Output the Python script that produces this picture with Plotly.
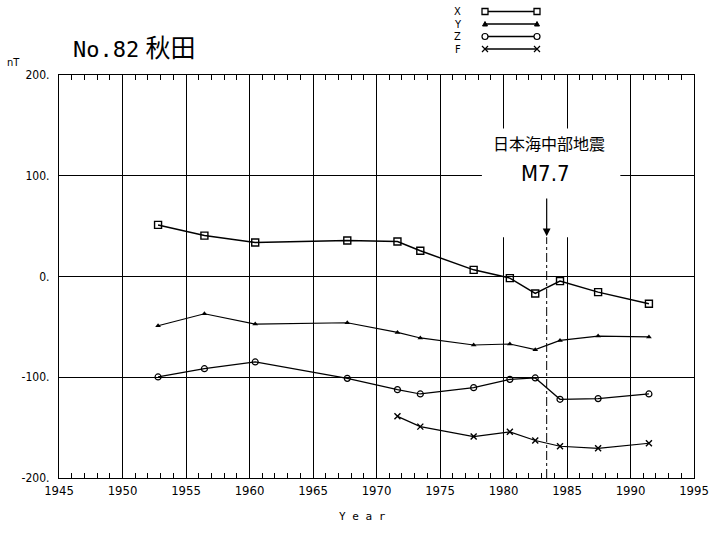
import plotly.graph_objects as go

# ---- data ----
years = [1952.8, 1956.45, 1960.45, 1967.7, 1971.65, 1973.45, 1977.65, 1980.5, 1982.5, 1984.45, 1987.45, 1991.45]
x_vals = [51.2, 40.6, 33.7, 35.7, 34.7, 25.5, 6.6, -1.6, -16.8, -4.6, -15.5, -27.1]
y_vals = [-48.9, -37.0, -47.2, -45.9, -55.5, -61.0, -68.0, -67.0, -72.6, -63.4, -59.1, -60.0]
z_vals = [-99.7, -91.5, -84.8, -101.1, -112.3, -116.6, -110.3, -102.1, -100.7, -121.9, -121.2, -116.6]
f_years = [1971.65, 1973.45, 1977.65, 1980.5, 1982.5, 1984.45, 1987.45, 1991.45]
f_vals = [-138.8, -149.0, -158.9, -154.2, -162.8, -168.5, -170.5, -165.5]

x_ticks = [1945, 1950, 1955, 1960, 1965, 1970, 1975, 1980, 1985, 1990, 1995]
y_ticks = [-200, -100, 0, 100, 200]
y_ticktext = ["-200.", "-100.", "0.", "100.", "200."]

quake_year = 1983.4
quake_name = "日本海中部地震"
quake_mag = "M7.7"
station_title = "No.82"
station_name = "秋田"

TICKFONT = "DejaVu Sans Condensed, DejaVu Sans, sans-serif"
CJK = "Noto Sans CJK JP"

fig = go.Figure()

series = [
    ("X", years, x_vals, dict(symbol="square-open", size=7, line=dict(width=1.4)), 1.5),
    ("Y", years, y_vals, dict(symbol="triangle-up", size=5), 1.2),
    ("Z", years, z_vals, dict(symbol="circle-open", size=6, line=dict(width=1.2)), 1.2),
    ("F", f_years, f_vals, dict(symbol="x-thin-open", size=6, line=dict(width=1.4)), 1.2),
]
for name, xs, ys, mk, lw in series:
    mk = dict(mk)
    mk["color"] = "black"
    fig.add_trace(go.Scatter(x=xs, y=ys, mode="lines+markers", name=name,
                             line=dict(color="black", width=lw), marker=mk,
                             showlegend=False, cliponaxis=False))

# ---- plot geometry (pixels) for paper conversions ----
W, H = 710, 533
L, R, T, B = 59, 16, 75, 55
PW, PH = W - L - R, H - T - B


def px(xp):
    return (xp - L) / PW


def py(yp):
    return (H - B - yp) / PH


shapes = []
# white box behind the annotation text (interrupts grid lines)
shapes.append(dict(type="rect", xref="x", yref="y", x0=1978.3, x1=1989.2, y0=39, y1=147,
                   fillcolor="white", line=dict(width=0), layer="between"))
# dashed earthquake line
shapes.append(dict(type="line", xref="x", yref="y", x0=quake_year, x1=quake_year, y0=-200, y1=39,
                   line=dict(color="black", width=1, dash="dashdot"), layer="between"))

# ---- manual legend in the top margin ----
leg_rows = [("X", 11.5), ("Y", 24), ("Z", 36.5), ("F", 49)]
lx0, lx1, ltx = 485, 537, 458
annotations = []
for name, yy in leg_rows:
    yv = py(yy)
    shapes.append(dict(type="line", xref="paper", yref="paper", x0=px(lx0), x1=px(lx1), y0=yv, y1=yv,
                       line=dict(color="black", width=1.3)))
    for xx in (lx0, lx1):
        xa = px(xx)
        common = dict(xref="paper", yref="paper", xsizemode="pixel", ysizemode="pixel",
                      xanchor=xa, yanchor=yv)
        if name == "X":
            shapes.append(dict(type="rect", x0=-3, x1=3, y0=-3, y1=3, fillcolor="white",
                               line=dict(color="black", width=1.3), **common))
        elif name == "Y":
            shapes.append(dict(type="path", path="M-2.5,-2 L2.5,-2 L0,2.5 Z", fillcolor="black",
                               line=dict(color="black", width=1), **common))
        elif name == "Z":
            shapes.append(dict(type="circle", x0=-3, x1=3, y0=-3, y1=3, fillcolor="white",
                               line=dict(color="black", width=1.2), **common))
        else:
            shapes.append(dict(type="path", path="M-3,-3 L3,3 M-3,3 L3,-3",
                               line=dict(color="black", width=1.2), **common))
    annotations.append(dict(text=name, xref="paper", yref="paper", x=px(ltx), y=yv,
                            xanchor="center", yanchor="middle", showarrow=False,
                            font=dict(family=TICKFONT, size=11, color="black")))

# title
annotations.append(dict(
    text=f"<span style='font-family:DejaVu Sans Mono;font-size:22px'>{station_title}</span>"
         f"  <span style='font-family:{CJK};font-size:25px'>{station_name}</span>",
    xref="paper", yref="paper", x=px(71), y=py(46), xanchor="left", yanchor="middle",
    showarrow=False, font=dict(color="black")))
# unit label
annotations.append(dict(text="nT", xref="paper", yref="paper", x=px(5), y=py(63),
                        xanchor="left", yanchor="middle", showarrow=False,
                        font=dict(family=TICKFONT, size=11, color="black")))
# x-axis title
annotations.append(dict(text="Y e a r", xref="paper", yref="paper", x=px(362), y=py(516),
                        xanchor="center", yanchor="middle", showarrow=False,
                        font=dict(family="DejaVu Sans Mono", size=11, color="black")))
# earthquake text
annotations.append(dict(text=quake_name, xref="x", yref="y", x=1983.6, y=133,
                        xanchor="center", yanchor="middle", showarrow=False,
                        font=dict(family=CJK, size=16, color="black")))
annotations.append(dict(text=quake_mag, xref="x", yref="y", x=1983.3, y=102,
                        xanchor="center", yanchor="middle", showarrow=False,
                        font=dict(family=TICKFONT, size=22, color="black")))
# arrow
annotations.append(dict(text="", xref="x", yref="y", x=quake_year, y=40,
                        axref="x", ayref="y", ax=quake_year, ay=79, showarrow=True,
                        arrowhead=2, arrowsize=1.3, arrowwidth=1.2, arrowcolor="black"))

fig.update_layout(
    width=W, height=H, autosize=False,
    margin=dict(l=L, r=R, t=T, b=B, pad=0, autoexpand=False),
    paper_bgcolor="white", plot_bgcolor="white",
    shapes=shapes, annotations=annotations,
    xaxis=dict(range=[1945, 1995], tickvals=x_ticks, ticktext=[str(v) for v in x_ticks],
               automargin=False,
               showgrid=True, gridcolor="black", gridwidth=1,
               showline=True, linecolor="black", linewidth=1.3, mirror="allticks",
               ticks="inside", ticklen=8, tickcolor="black",
               minor=dict(dtick=1, tick0=1945, ticks="inside", ticklen=5, tickcolor="black", showgrid=False),
               tickfont=dict(family=TICKFONT, size=13, color="black"),
               zeroline=False, fixedrange=True),
    yaxis=dict(range=[-200, 200], tickvals=y_ticks, ticktext=y_ticktext,
               automargin=False,
               showgrid=True, gridcolor="black", gridwidth=1,
               showline=True, linecolor="black", linewidth=1.3, mirror=True,
               ticks="", tickfont=dict(family=TICKFONT, size=12, color="black"),
               ticklabelstandoff=6, zeroline=False, fixedrange=True),
)

fig.write_html("out.html", config={"responsive": False, "displayModeBar": False},
               post_script="document.body.style.margin='0px';")
